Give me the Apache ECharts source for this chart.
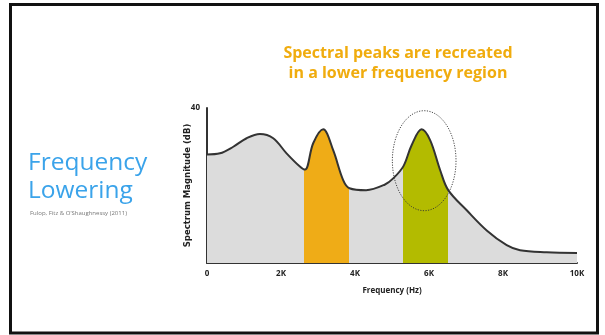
<!DOCTYPE html>
<html>
<head>
<meta charset="utf-8">
<script src="https://cdn.jsdelivr.net/npm/echarts@6/dist/echarts.min.js"></script>
<style>
html, body { margin: 0; padding: 0; background: #fff; }
#chart { width: 605px; height: 335px; }
</style>
</head>
<body>
<div id="chart"></div>
<script>
// spectrum curve (Hz, dB)
const freqHz = [0, 350, 710, 1070, 1430, 1790, 2150, 2510, 2650, 2870, 3140, 3410, 3680, 3850, 4300, 4800, 5040, 5310, 5530, 5800, 6030, 6300, 6520, 7020, 7560, 8100, 8460, 9180, 10000];
const magDb = [28.0, 28.3, 30.0, 32.2, 33.3, 32.2, 28.3, 24.9, 24.1, 30.9, 34.5, 29.1, 21.4, 19.3, 18.8, 20.2, 21.9, 25.0, 30.4, 34.5, 31.7, 24.0, 18.8, 13.6, 8.4, 4.6, 3.3, 2.8, 2.6];

// highlighted bands [from, to] in Hz
const lowBand = [2630, 3850];
const highBand = [5310, 6510];

// dotted ring round the original peak: centre Hz, centre dB, half-width Hz, half-height dB
const ring = [5870, 26.4, 860, 12.9];

const xTicks = [0, 2000, 4000, 6000, 8000, 10000];

const curve = freqHz.map((f, i) => [f, magDb[i]]);

const chart = echarts.init(document.getElementById('chart'));

const labelFont = { fontFamily: 'Open Sans', fontWeight: 'bold', fontSize: 8, color: '#222' };

chart.setOption({
    animation: false,
    backgroundColor: '#fff',
    title: {
        text: 'Spectral peaks are recreated\nin a lower frequency region',
        left: 393,
        top: 38,
        textAlign: 'center',
        textStyle: {
            fontFamily: 'Open Sans',
            fontWeight: 'bold',
            fontSize: 16,
            lineHeight: 20,
            color: '#f0ac0e'
        }
    },
    graphic: [
        { type: 'rect', shape: { x: 10.5, y: 4.5, width: 587, height: 328.5 }, style: { fill: 'none', stroke: '#111', lineWidth: 3 }, z: 100 },
        { type: 'text', left: 28, top: 149, style: { text: 'Frequency\nLowering', font: '24.5px "Open Sans"', fill: '#3aa3ea', lineHeight: 28 } },
        { type: 'text', left: 30, top: 210, style: { text: 'Fulop, Fitz & O\u2019Shaughnessy (2011)', font: '6px "Open Sans"', fill: '#777' } }
    ],
    grid: { left: 207, right: 28, top: 108, bottom: 72 },
    xAxis: {
        type: 'value',
        min: 0,
        max: 10000,
        interval: 2000,
        name: 'Frequency (Hz)',
        nameLocation: 'middle',
        nameGap: 24,
        nameMoveOverlap: false,
        nameTextStyle: labelFont,
        axisLine: { lineStyle: { color: '#333', width: 2 } },
        axisTick: { show: false },
        splitLine: { show: false },
        axisLabel: Object.assign({
            margin: 7,
            formatter: (v) => xTicks.indexOf(v) < 0 ? '' : (v === 0 ? '0' : v / 1000 + 'K')
        }, labelFont)
    },
    yAxis: {
        type: 'value',
        min: 0,
        max: 40,
        interval: 40,
        name: 'Spectrum Magnitude (dB)',
        nameLocation: 'middle',
        nameRotate: 90,
        nameGap: 15,
        nameMoveOverlap: false,
        nameTextStyle: { fontFamily: 'DejaVu Sans', fontWeight: 'bold', fontSize: 8.5, color: '#222' },
        axisLine: { show: true, lineStyle: { color: '#333', width: 2 } },
        axisTick: { show: false },
        splitLine: { show: false },
        axisLabel: Object.assign({
            margin: 7,
            formatter: (v) => v === 40 ? '40' : ''
        }, labelFont)
    },
    visualMap: {
        show: false,
        type: 'piecewise',
        seriesIndex: 0,
        dimension: 0,
        pieces: [
            { gte: lowBand[0], lte: lowBand[1], color: '#efac17' },
            { gte: highBand[0], lte: highBand[1], color: '#b3bb00' }
        ],
        outOfRange: { color: '#dcdcdc' }
    },
    series: [
        {
            type: 'line',
            data: curve,
            smooth: 0.35,
            symbol: 'none',
            lineStyle: { width: 0 },
            areaStyle: { opacity: 1 },
            z: 1
        },
        {
            type: 'line',
            data: curve,
            smooth: 0.35,
            symbol: 'none',
            lineStyle: { color: '#333', width: 2 },
            z: 3
        },
        {
            type: 'custom',
            data: [ring],
            z: 4,
            renderItem: (params, api) => {
                const c = api.coord([api.value(0), api.value(1)]);
                const s = api.size([api.value(2), api.value(3)]);
                return {
                    type: 'ellipse',
                    shape: { cx: c[0], cy: c[1], rx: s[0], ry: s[1] },
                    style: { fill: 'none', stroke: '#333', lineWidth: 0.9, lineDash: [1.2, 1.4] }
                };
            }
        }
    ]
});
</script>
</body>
</html>
